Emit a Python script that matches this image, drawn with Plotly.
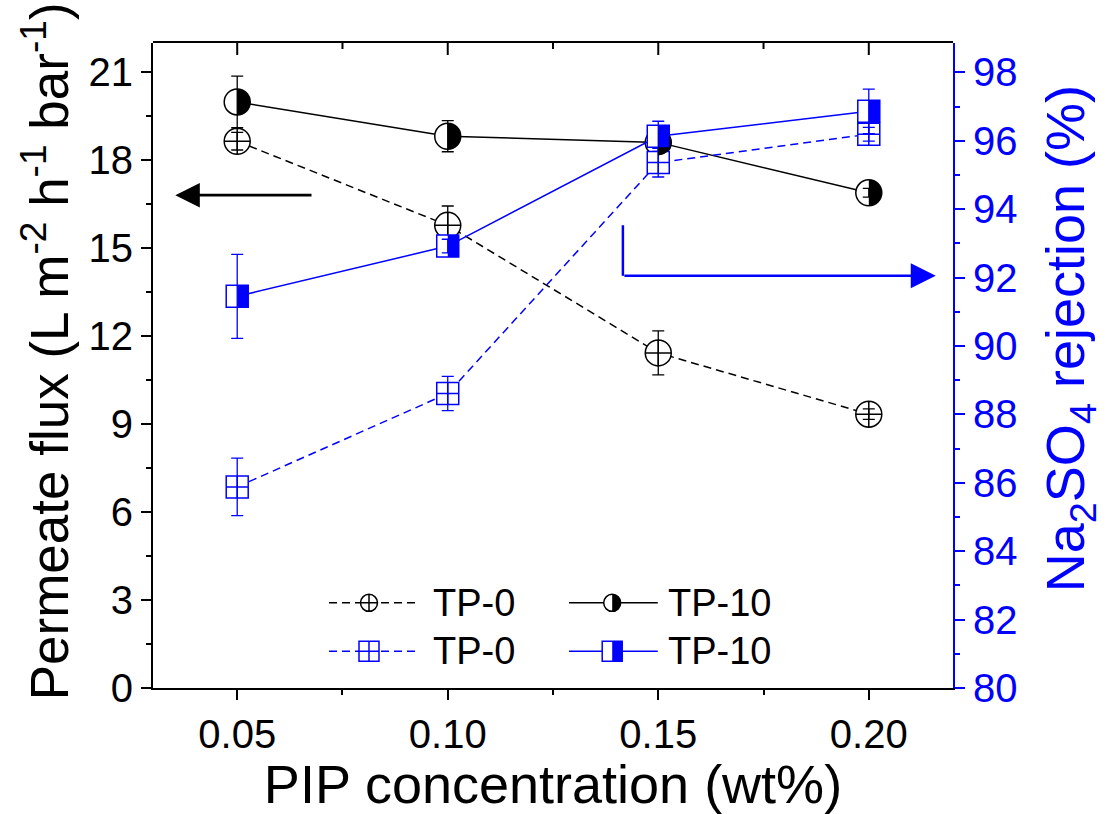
import numpy as np
import plotly.graph_objects as go

# ---- data ---------------------------------------------------------------
pip_conc = [0.05, 0.10, 0.15, 0.20]
pip_tick_text = ["0.05", "0.10", "0.15", "0.20"]

flux_tp0 = [18.65, 15.78, 11.43, 9.34]
flux_tp0_err = [0.30, 0.66, 0.75, 0.18]
flux_tp10 = [19.99, 18.82, 18.61, 16.89]
flux_tp10_err = [0.88, 0.53, 0.45, 0.15]

rej_tp0 = [85.88, 88.61, 95.36, 96.19]
rej_tp0_err = [0.84, 0.50, 0.42, 0.20]
rej_tp10 = [91.45, 92.92, 96.13, 96.86]
rej_tp10_err = [1.23, 0.20, 0.44, 0.65]

legend_names = ["TP-0", "TP-10"]

# ---- style --------------------------------------------------------------
BLACK = "#000000"
BLUE = "#0000FF"
FONT = "Liberation Sans, Arial, Helvetica, sans-serif"
DASH = "8px,5px"

WIDTH, HEIGHT = 1107, 814
MARGIN = dict(l=153, r=154, t=43, b=126)
PLOT_H = HEIGHT - MARGIN["t"] - MARGIN["b"]

X_RANGE = [0.03, 0.22]
FLUX_RANGE = [0, 22]
REJ_RANGE = [80, 80 + 22 * 18 / 21]   # keeps 21 <-> 98 aligned with 0 <-> 80

CIRCLE_SIZE = 26
SQUARE_SIZE = 22


def half_circle_path(r, n=32):
    """Right half of a disc, in pixels around the anchor point."""
    t = np.linspace(-np.pi / 2, np.pi / 2, n)
    pts = [f"{r * np.cos(a):.2f},{r * np.sin(a):.2f}" for a in t]
    return "M" + " L".join(pts) + " Z"


def half_fill_shape(kind, x, y, xref, yref, half, color):
    base = dict(xref=xref, yref=yref, xsizemode="pixel", ysizemode="pixel",
                xanchor=x, yanchor=y, fillcolor=color, line=dict(width=0),
                layer="above")
    if kind == "circle":
        base.update(type="path", path=half_circle_path(half))
    else:
        base.update(type="rect", x0=0, x1=half, y0=-half, y1=half)
    return base


fig = go.Figure()
shapes = []


def add_series(y, err, yaxis, color, dash, symbol, size):
    fig.add_trace(go.Scatter(
        x=pip_conc, y=y, mode="lines+markers", yaxis=yaxis, showlegend=False,
        line=dict(color=color, width=1.5, dash=dash),
        marker=dict(symbol=symbol, size=size, color="white",
                    line=dict(color=color, width=1.5)),
        hoverinfo="skip"))
    # error bars drawn on top of the markers
    fig.add_trace(go.Scatter(
        x=pip_conc, y=y, mode="markers", yaxis=yaxis,
        showlegend=False, marker=dict(size=2, color="rgba(0,0,0,0)"),
        error_y=dict(type="data", array=err, visible=True, color=color,
                     thickness=1.3, width=6),
        hoverinfo="skip"))


add_series(flux_tp0, flux_tp0_err, "y", BLACK, DASH, "circle-cross", CIRCLE_SIZE)
add_series(flux_tp10, flux_tp10_err, "y", BLACK, "solid", "circle", CIRCLE_SIZE)
add_series(rej_tp0, rej_tp0_err, "y2", BLUE, DASH, "square-cross", SQUARE_SIZE)
add_series(rej_tp10, rej_tp10_err, "y2", BLUE, "solid", "square", SQUARE_SIZE)

for xv, yv in zip(pip_conc, flux_tp10):
    shapes.append(half_fill_shape("circle", xv, yv, "x", "y", CIRCLE_SIZE / 2, BLACK))
for xv, yv in zip(pip_conc, rej_tp10):
    shapes.append(half_fill_shape("square", xv, yv, "x", "y2", SQUARE_SIZE / 2, BLUE))

# top frame line with inward tick marks (major at the categories, minor between)
shapes.append(dict(type="line", xref="paper", yref="paper", x0=0, x1=1,
                   y0=1 + 1 / PLOT_H, y1=1 + 1 / PLOT_H,
                   line=dict(color=BLACK, width=2), layer="above"))
top_minor = [0.075, 0.125, 0.175]
for xv, tick_len in [(v, 12) for v in pip_conc] + [(v, 6) for v in top_minor]:
    shapes.append(dict(type="line", xref="x", yref="paper", x0=xv, x1=xv,
                       y0=1, y1=1 - tick_len / PLOT_H,
                       line=dict(color=BLACK, width=2), layer="above"))

# ---- in-plot legend (2 x 2 grid, plot-fraction coordinates) --------------
legend_rows = [0.132, 0.057]                       # black row, blue row
legend_cols = [dict(x0=0.22, xm=0.27, x1=0.3275, xt=0.347),
               dict(x0=0.52, xm=0.574, x1=0.631, xt=0.641)]
legend_styles = [
    [dict(color=BLACK, dash=DASH, symbol="circle-cross", size=17, half=None),
     dict(color=BLACK, dash="solid", symbol="circle", size=17, half="circle")],
    [dict(color=BLUE, dash=DASH, symbol="square-cross", size=20, half=None),
     dict(color=BLUE, dash="solid", symbol="square", size=20, half="square")],
]
annotations = []
for r, yr in enumerate(legend_rows):
    for c, col in enumerate(legend_cols):
        st = legend_styles[r][c]
        fig.add_trace(go.Scatter(
            x=[col["x0"], col["x1"]], y=[yr, yr], mode="lines",
            xaxis="x3", yaxis="y3", showlegend=False, hoverinfo="skip",
            line=dict(color=st["color"], width=1.5, dash=st["dash"])))
        fig.add_trace(go.Scatter(
            x=[col["xm"]], y=[yr], mode="markers",
            xaxis="x3", yaxis="y3", showlegend=False, hoverinfo="skip",
            marker=dict(symbol=st["symbol"], size=st["size"], color="white",
                        line=dict(color=st["color"], width=1.5))))
        if st["half"]:
            shapes.append(half_fill_shape(st["half"], col["xm"], yr, "paper", "paper",
                                          st["size"] / 2, st["color"]))
        annotations.append(dict(
            x=col["xt"], y=yr, xref="paper", yref="paper", xanchor="left",
            yanchor="middle", text=legend_names[c], showarrow=False,
            font=dict(family=FONT, size=38, color=BLACK)))

# ---- axis titles (placed in plot-fraction coordinates) -------------------
annotations.append(dict(
    text="Permeate flux (L m<sup>-2</sup> h<sup>-1</sup> bar<sup>-1</sup>)",
    x=-0.135, y=0.522, xref="paper", yref="paper", xanchor="center",
    yanchor="middle", textangle=-90, showarrow=False,
    font=dict(family=FONT, size=53, color=BLACK)))
annotations.append(dict(
    text="Na<sub>2</sub>SO<sub>4</sub> rejection (%)",
    x=1.146, y=0.542, xref="paper", yref="paper", xanchor="center",
    yanchor="middle", textangle=-90, showarrow=False,
    font=dict(family=FONT, size=54, color=BLUE)))

# ---- axis-direction arrows ----------------------------------------------
flux_arrow = dict(tail=(0.068, 16.81), head=(0.0353, 16.81))
rej_arrow = dict(start=(0.1416, 93.53), corner=(0.1416, 92.05), head=(0.2159, 92.05))

annotations.append(dict(
    x=flux_arrow["head"][0], y=flux_arrow["head"][1], xref="x", yref="y",
    ax=flux_arrow["tail"][0], ay=flux_arrow["tail"][1], axref="x", ayref="y",
    text="", showarrow=True, arrowhead=2, arrowsize=1.75, arrowwidth=2.8,
    arrowcolor=BLACK, standoff=0, startstandoff=0))
shapes.append(dict(type="line", xref="x", yref="y2",
                   x0=rej_arrow["start"][0], y0=rej_arrow["start"][1],
                   x1=rej_arrow["corner"][0], y1=rej_arrow["corner"][1],
                   line=dict(color=BLUE, width=2.5)))
annotations.append(dict(
    x=rej_arrow["head"][0], y=rej_arrow["head"][1], xref="x", yref="y2",
    ax=rej_arrow["corner"][0], ay=rej_arrow["corner"][1], axref="x", ayref="y2",
    text="", showarrow=True, arrowhead=2, arrowsize=2.0, arrowwidth=2.5,
    arrowcolor=BLUE, standoff=0, startstandoff=0))

# ---- layout -------------------------------------------------------------
tick_font = dict(family=FONT, size=40, color=BLACK)
title_font = dict(family=FONT, size=54, color=BLACK)

fig.update_layout(
    width=WIDTH, height=HEIGHT,
    margin=MARGIN,
    paper_bgcolor="white", plot_bgcolor="white",
    font=dict(family=FONT, color=BLACK),
    showlegend=False,
    shapes=shapes,
    annotations=annotations,
    xaxis=dict(
        range=X_RANGE, tickmode="array", tickvals=pip_conc, ticktext=pip_tick_text,
        ticks="outside", ticklen=10, tickwidth=2, tickcolor=BLACK,
        minor=dict(dtick=0.025, tick0=0.025, ticks="outside", ticklen=5,
                   tickwidth=2, tickcolor=BLACK),
        showline=True, linewidth=2, linecolor=BLACK,
        showgrid=False, zeroline=False, automargin=False,
        tickfont=tick_font,
        title=dict(text="PIP concentration (wt%)", font=title_font, standoff=12),
    ),
    yaxis=dict(
        range=FLUX_RANGE, tick0=0, dtick=3,
        ticks="outside", ticklen=10, tickwidth=2, tickcolor=BLACK,
        minor=dict(dtick=1.5, tick0=0, ticks="outside", ticklen=5,
                   tickwidth=2, tickcolor=BLACK),
        showline=True, linewidth=2, linecolor=BLACK,
        showgrid=False, zeroline=False, automargin=False,
        tickfont=tick_font,
    ),
    yaxis2=dict(
        overlaying="y", side="right", anchor="x",
        range=REJ_RANGE, tick0=80, dtick=2,
        ticks="outside", ticklen=10, tickwidth=2, tickcolor=BLUE,
        minor=dict(dtick=1, tick0=80, ticks="outside", ticklen=5,
                   tickwidth=2, tickcolor=BLUE),
        showline=True, linewidth=2, linecolor=BLUE,
        showgrid=False, zeroline=False, automargin=False,
        tickfont=dict(family=FONT, size=40, color=BLUE),
    ),
    xaxis3=dict(overlaying="x", anchor="y3", range=[0, 1], visible=False),
    yaxis3=dict(overlaying="y", anchor="x3", range=[0, 1], visible=False),
)

fig.write_html("out.html")
